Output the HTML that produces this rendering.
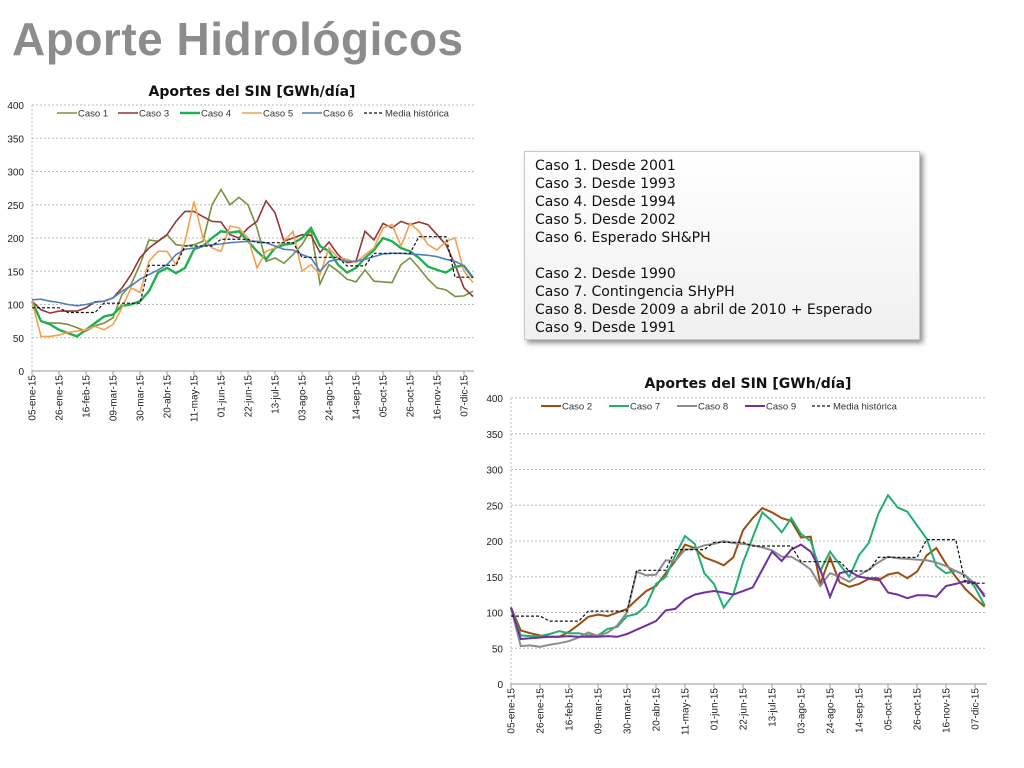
<!DOCTYPE html>
<html><head><meta charset="utf-8"><style>
body{margin:0;width:1024px;height:768px;background:#fff;overflow:hidden;font-family:"Liberation Sans",sans-serif;position:relative}
#title{position:absolute;left:12px;top:12px;font-size:46px;font-weight:bold;color:#8c8c8c;margin:0;letter-spacing:0.5px}
#box{position:absolute;left:524px;top:151px;width:396px;height:189px;border:1px solid #c8c8c8;background:linear-gradient(#fff,#f0f0f0);box-shadow:3px 3px 5px rgba(0,0,0,0.45);font-size:15px;line-height:18px;color:#111;padding:5px 0 0 10px;box-sizing:border-box;font-family:"DejaVu Sans","Liberation Sans",sans-serif;font-size:14px}
svg{position:absolute;left:0;top:0}
</style></head><body>
<h1 id="title">Aporte Hidrológicos</h1>
<div id="box">
Caso 1. Desde 2001<br>Caso 3. Desde 1993<br>Caso 4. Desde 1994<br>Caso 5. Desde 2002<br>Caso 6. Esperado SH&amp;PH<br><br>Caso 2. Desde 1990<br>Caso 7. Contingencia SHyPH<br>Caso 8. Desde 2009 a abril de 2010 + Esperado<br>Caso 9. Desde 1991
</div>
<svg id="svg" width="1024" height="768"></svg>
<script>
const tickLabels=["05-ene-15","26-ene-15","16-feb-15","09-mar-15","30-mar-15","20-abr-15","11-may-15","01-jun-15","22-jun-15","13-jul-15","03-ago-15","24-ago-15","14-sep-15","05-oct-15","26-oct-15","16-nov-15","07-dic-15"];
const yTicks=[0,50,100,150,200,250,300,350,400];
const media=[95,95,95,95,88,88,88,88,102,102,102,102,102,159,159,159,159,188,188,188,188,198,198,198,198,193,193,193,193,193,171,171,171,171,171,158,158,158,177,177,177,177,177,202,202,202,202,141,141,141];
const caso1=[105,75,72,72,70,65,60,68,72,80,115,130,160,197,195,205,190,188,190,195,250,273,250,261,250,215,165,170,162,175,190,212,131,160,150,138,134,152,135,134,133,160,170,155,138,125,122,112,113,120];
const caso3=[105,92,87,90,90,90,95,104,105,110,125,145,170,185,195,205,225,240,240,232,225,224,205,200,215,225,256,238,195,200,205,204,178,194,175,163,165,210,197,222,215,225,220,224,220,205,190,160,125,112];
const caso4=[105,75,70,62,57,52,62,72,82,85,98,100,105,120,148,155,147,155,183,188,200,210,208,210,195,180,168,185,190,192,200,215,188,180,160,148,155,170,182,200,195,185,180,170,157,152,148,157,158,140];
const caso5=[105,52,52,54,58,60,62,67,62,70,95,125,118,165,180,180,160,195,255,200,185,180,218,215,200,155,180,185,195,210,150,160,145,185,170,168,163,175,185,215,220,188,222,210,190,182,195,200,150,133];
const caso6=[107,108,105,103,100,98,100,103,105,110,120,128,138,145,152,160,175,183,185,188,190,191,193,194,195,195,193,188,183,182,175,170,150,165,168,165,165,168,172,176,177,177,176,175,174,172,168,165,158,140];
const caso2=[107,75,71,68,66,66,73,83,94,97,95,100,105,118,130,137,155,172,195,190,177,172,166,177,215,232,246,240,232,228,205,206,140,177,142,136,140,147,145,153,156,148,157,180,190,168,150,133,120,108];
const caso7=[107,68,67,67,70,74,71,71,68,68,77,80,95,98,110,140,150,180,207,196,155,140,107,125,170,205,240,228,212,232,210,200,158,185,167,150,180,197,238,264,247,241,222,203,165,155,158,152,135,110];
const caso8=[107,53,54,52,55,57,60,65,72,67,72,82,100,157,152,153,173,172,188,189,194,196,200,197,196,194,191,187,178,178,170,160,137,155,150,143,152,160,170,178,176,175,174,173,170,165,158,152,140,125];
const caso9=[107,63,64,65,66,66,67,66,66,66,67,66,70,76,82,88,103,105,118,125,128,130,128,125,130,135,160,185,172,188,195,185,160,122,155,158,150,148,148,128,125,120,124,124,122,137,140,144,142,122];

const svg=document.getElementById('svg');
const NS='http://www.w3.org/2000/svg';
function mk(tag,attrs,parent){const e=document.createElementNS(NS,tag);for(const k in attrs)e.setAttribute(k,attrs[k]);(parent||svg).appendChild(e);return e;}

function chart(cfg){
  const g=mk('g',{});
  
  
  const n=media.length;
  const xs=i=>cfg.x0+(cfg.x48-cfg.x0)*i/48;
  const ys=v=>cfg.y0-(cfg.y0-cfg.y400)*v/400;
  const t=mk('text',{x:cfg.tx,y:cfg.ty,'text-anchor':'middle','font-size':14,'font-weight':'bold','font-family':'DejaVu Sans,Liberation Sans,sans-serif',fill:'#111'},g);
  t.textContent='Aportes del SIN [GWh/día]';
  
  
  yTicks.forEach(v=>{
    if(v>0){const l=mk('line',{x1:cfg.x0,x2:cfg.xEnd,y1:ys(v),y2:ys(v),stroke:'#bbb','stroke-dasharray':'2,2'},g);
    
    }
    const tl=mk('text',{x:cfg.x0-8,y:ys(v)+4,'text-anchor':'end','font-size':10,fill:'#222'},g);
    tl.textContent=v;
    
    
  });
  mk('line',{x1:cfg.x0,x2:cfg.x0,y1:cfg.y400,y2:cfg.y0,stroke:'#bbb','stroke-dasharray':'2,2'},g);
  mk('line',{x1:cfg.x0,x2:cfg.xEnd,y1:cfg.y0,y2:cfg.y0,stroke:'#999'},g);
  tickLabels.forEach((lab,k)=>{
    const x=xs(k*3);
    mk('line',{x1:x,x2:x,y1:cfg.y0,y2:cfg.y0+4,stroke:'#999'},g);
    const tl=mk('text',{x:0,y:0,'text-anchor':'end','font-size':10,fill:'#222',transform:`translate(${x+3.5},${cfg.y0+4}) rotate(-90)`},g);
    tl.textContent=lab;
    
    
  });
  cfg.series.forEach(s=>{
    const d=s.data.map((v,i)=>(i?'L':'M')+xs(i).toFixed(1)+','+ys(v).toFixed(1)).join('');
    const p=mk('path',{d:d,fill:'none',stroke:s.color,'stroke-width':s.w,'stroke-dasharray':s.dash||'none'},g);
    
    
    const lx=s.lx;
    const ll=mk('line',{x1:lx,x2:lx+20,y1:cfg.ly,y2:cfg.ly,stroke:s.color,'stroke-width':s.w,'stroke-dasharray':s.dash||'none'},g);
    
    
    const lt=mk('text',{x:lx+21,y:cfg.ly+3.5,'font-size':9.5,fill:'#333'},g);
    lt.textContent=s.label;
    
    
  });
}
chart({name:'chart-cases-1-6',x0:32,x48:464,xEnd:474,y0:371,y400:105,tx:252,ty:96,ly:113,series:[
 {label:'Caso 1',data:caso1,color:'#77933c',w:1.6,lx:57},
 {label:'Caso 3',data:caso3,color:'#953735',w:1.6,lx:118},
 {label:'Caso 4',data:caso4,color:'#1fb04f',w:2.4,lx:180},
 {label:'Caso 5',data:caso5,color:'#f5a050',w:1.6,lx:242},
 {label:'Caso 6',data:caso6,color:'#4f7fbe',w:1.6,lx:302},
 {label:'Media histórica',data:media,color:'#111',w:1.2,dash:'3,2',lx:364}]});
chart({name:'chart-cases-2-9',x0:511,x48:975,xEnd:987,y0:684,y400:398,tx:748,ty:388,ly:406,series:[
 {label:'Caso 2',data:caso2,color:'#9a4f10',w:2,lx:541},
 {label:'Caso 7',data:caso7,color:'#20b070',w:2,lx:609},
 {label:'Caso 8',data:caso8,color:'#8c8c8c',w:2,lx:677},
 {label:'Caso 9',data:caso9,color:'#7030a0',w:2,lx:745},
 {label:'Media histórica',data:media,color:'#111',w:1.2,dash:'3,2',lx:812}]});
</script>
</body></html>
